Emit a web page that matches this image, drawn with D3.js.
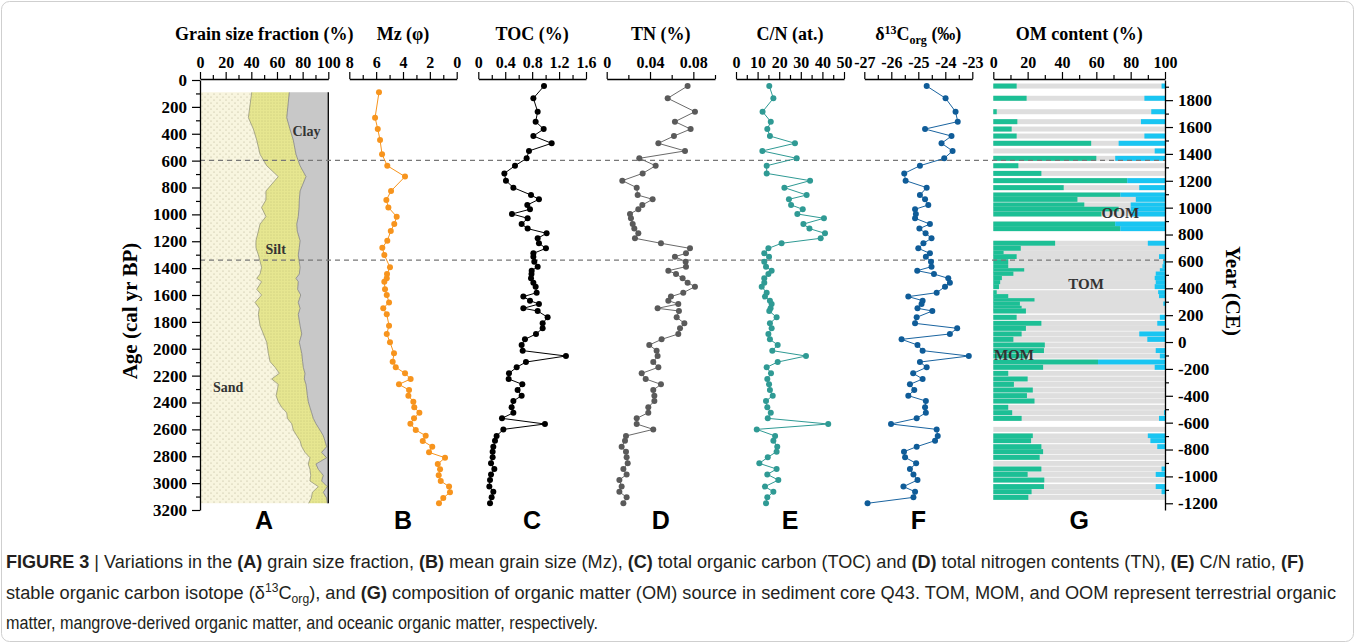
<!DOCTYPE html>
<html><head><meta charset="utf-8">
<script src="https://cdn.jsdelivr.net/npm/d3@7"></script>
<style>body{margin:0;background:#fff}svg{display:block}</style>
</head><body>
<svg id="c" width="1355" height="643"></svg>
<script>
// ---------------- DATA ----------------
// Panel A/B samples (grain size), age in cal yr BP
const grainAge = [92,280,365,447,553,638,719,826,893,948,1017,1072,1124,1196,1248,1302,1394,1444,1476,1501,1558,1600,1655,1699,1744,1828,1890,1952,2034,2096,2138,2183,2225,2265,2307,2349,2394,2436,2476,2518,2558,2605,2647,2686,2729,2771,2811,2858,2897,2942,2984,3026,3068,3111,3150];
const sand = [40.3,37.7,41.6,44.2,46.8,52,61,51.4,51.4,48,51.4,46.8,45.5,43.6,43.6,45.5,48,46.8,44.2,48,44.2,48,42.9,46.2,45.5,46.8,49.4,52,53.3,54.6,58.5,61.8,55.9,61,60.3,59.3,61,63.7,67.6,68.1,71.5,72.7,75.4,78,79.3,81.8,85.7,84.4,85.7,86.3,85.7,92.2,87.6,86.8,84.7];
const silt = [29.3,29.9,28.5,28.5,28,26,21.6,26.6,26,29.2,25.2,28.6,30.3,34.4,33.8,31.1,30,30.6,30.6,28.6,31.9,30.5,33.7,31.8,31.1,31.2,29.9,25.4,26,25.4,22,20,25.4,21.6,22.9,24.4,23.4,22,19.4,20.2,18.9,20.8,20.7,19.4,19.4,13,13,6,6.5,9.8,9.1,7,8.5,11.9,14.5];
const clay = [30.4,32.4,29.9,27.3,25.2,22,17.4,22,22.6,22.8,23.4,24.6,24.2,22,22.6,23.4,22,22.6,25.2,23.4,23.9,21.5,23.4,22,23.4,22,20.7,22.6,20.7,20,19.5,18.2,18.7,17.4,16.8,16.3,15.6,14.3,13,11.7,9.6,6.5,3.9,2.6,1.3,5.2,1.3,9.6,7.8,3.9,5.2,0.8,3.9,1.3,0.8];
const mz = [5.79,6.08,5.88,5.71,5.56,5.17,3.85,4.89,5.24,5.09,4.47,4.65,4.91,5.17,5.54,5.39,4.97,5.19,5.21,5.39,5.34,5.21,5.04,5.47,5.21,5.04,5.21,4.97,4.67,4.77,4.54,3.85,3.43,4.30,3.55,3.60,3.23,3.16,2.78,3.18,3.45,3.05,2.31,2.53,1.82,2.06,0.87,1.41,1.24,1.34,1.19,0.57,0.50,1.00,1.32];

// Panels C-G samples, age in cal yr BP
const sampleAge = [45,136,236,310,365,417,471,528,583,638,695,749,801,856,888,930,962,997,1029,1072,1106,1141,1178,1215,1253,1290,1315,1352,1389,1419,1444,1476,1508,1538,1583,1612,1642,1667,1699,1719,1766,1811,1848,1890,1930,1972,2014,2054,2099,2138,2183,2225,2265,2307,2349,2389,2436,2476,2518,2560,2600,2649,2684,2729,2766,2808,2853,2895,2935,2977,3026,3064,3106,3150];
const toc = [0.976,0.818,0.882,0.852,0.971,0.818,1.09,0.753,0.718,0.545,0.387,0.411,0.521,0.783,0.901,0.728,0.768,0.500,0.733,0.644,0.733,1.015,0.882,0.901,1.005,0.818,0.818,0.832,0.882,0.793,0.79,0.783,0.818,0.852,0.867,0.669,0.768,0.901,0.669,0.882,1.030,0.956,0.956,0.857,0.693,0.644,0.659,1.302,0.708,0.570,0.456,0.451,0.654,0.584,0.644,0.521,0.495,0.521,0.352,0.990,0.372,0.272,0.248,0.223,0.213,0.213,0.189,0.238,0.189,0.174,0.164,0.223,0.198,0.174];
const tn = [0.0747,0.0563,0.0815,0.0630,0.0775,0.0621,0.0477,0.0723,0.0301,0.0452,0.0332,0.0144,0.0277,0.0286,0.0424,0.0329,0.0292,0.0215,0.0224,0.0240,0.0255,0.0292,0.0261,0.0501,0.0769,0.0732,0.0630,0.0729,0.0732,0.0569,0.0640,0.0701,0.0747,0.0815,0.0707,0.0593,0.0569,0.0661,0.0470,0.0667,0.0646,0.0717,0.0677,0.0661,0.0507,0.0393,0.0461,0.0470,0.0430,0.0477,0.0323,0.0360,0.0501,0.0430,0.0440,0.0440,0.0384,0.0384,0.0277,0.0277,0.0430,0.0178,0.0169,0.0138,0.0178,0.0184,0.0194,0.0154,0.0184,0.0117,0.0138,0.0117,0.0184,0.0154];
const cn = [15.4,17.3,12.3,16.1,14.5,15.7,27.3,12.2,28.1,14.2,14.2,34.3,22.4,32.7,24.5,25.5,30.9,28.4,40.7,31.2,34.0,41.2,39.2,21.1,15.0,13.1,15.3,13.1,13.9,16.5,15.0,13.1,13.1,11.9,14.2,13.4,15.7,16.5,16.0,15.4,18.8,15.7,16.5,15.0,15.7,19.3,16.8,32.4,19.3,14.2,16.2,14.5,15.3,15.7,17.0,13.9,14.5,16.1,14.7,42.7,9.6,18.1,17.3,19.1,18.8,14.7,10.8,18.8,14.5,19.6,13.4,17.3,14.5,13.9];
const d13c = [-24.69,-23.99,-23.62,-23.54,-24.75,-23.77,-24.14,-23.73,-24.04,-24.94,-25.52,-25.47,-24.69,-24.94,-24.75,-24.63,-25.12,-25.09,-25.12,-24.57,-24.96,-24.73,-24.51,-24.81,-25.00,-24.57,-24.72,-24.53,-24.51,-25.04,-24.42,-23.89,-23.83,-24.01,-24.32,-25.37,-24.84,-24.88,-25.03,-24.48,-25.06,-25.12,-23.56,-23.83,-25.62,-25.03,-24.84,-23.13,-24.94,-24.69,-25.19,-24.84,-25.31,-25.15,-25.37,-24.72,-24.75,-24.72,-25.06,-26.01,-24.32,-24.28,-24.38,-25.06,-25.53,-25.49,-25.08,-25.31,-25.18,-25.03,-25.55,-25.12,-25.18,-26.88];
// Panel G: OM source (%), same samples; null = no estimate
const momPct = [13.6,19.4,2,14,10.7,13.6,57,0,60,14.6,28,78,41,74,49,53,73,63,null,71,74,null,null,36,16,6,13.6,8.7,8.7,18,11.7,5,4,3.3,2,8.7,24,15.5,16.5,19,13.6,28,19,16.5,11.7,30,29.5,20,61,29,8.7,20,12,23,19.6,24,8.7,11,16.5,null,0,23,22,28,29,27,0,28,20,29.7,29.5,22.3,20.4,null];
const oomPct = [2,12,8,14,0,12,27,6,29,0,0,22,15,26,17,20,20,20,null,29,26,null,null,10,0,0,3.5,1,1.5,3,5.4,6,5.4,6,4,3.5,0,1,0,0,3,4.5,0,15,10.3,0,5.4,3,39,6,0,0,0,0,0,0,0,0.6,3.5,null,0,10,8.5,4.5,0,0,0,2,5.4,0,5.4,2,0,null];

const zoneBounds = [598, 1340];
const ageTicks = d3.range(0, 3201, 200);
const ageMinor = d3.range(100, 3200, 200);
const yearTicks = d3.range(-1200, 1801, 200);
const yearMinor = d3.range(-1100, 1901, 200);

// ---------------- DRAW ----------------
const serif = '"Liberation Serif","Times New Roman",serif';
const sans = '"Liberation Sans",Arial,sans-serif';
const svg = d3.select('#c');

svg.append('rect').attr('x',1.5).attr('y',1.5).attr('width',1352).attr('height',640)
  .attr('rx',8).attr('fill','#fff').attr('stroke','#cfcfcf').attr('stroke-width',1);

const defs = svg.append('defs');
const pS = defs.append('pattern').attr('id','sandP').attr('width',6).attr('height',6).attr('patternUnits','userSpaceOnUse');
pS.append('rect').attr('width',6).attr('height',6).attr('fill','#f8f5df');
pS.append('circle').attr('cx',1).attr('cy',1).attr('r',0.5).attr('fill','#a8a282');
pS.append('circle').attr('cx',4).attr('cy',4).attr('r',0.5).attr('fill','#a8a282');
const pT = defs.append('pattern').attr('id','siltP').attr('width',3).attr('height',3).attr('patternUnits','userSpaceOnUse');
pT.append('rect').attr('width',3).attr('height',3).attr('fill','#e6e690');
pT.append('circle').attr('cx',1).attr('cy',1).attr('r',0.45).attr('fill','#a8a860');

const y = d3.scaleLinear().domain([0, 3200]).range([80, 510]);
const yr = d3.scaleLinear().domain([1950, -1250]).range([80, 510]);
const axisY = 79;

const xA = d3.scaleLinear().domain([0,100]).range([200,328.3]);
const xB = d3.scaleLinear().domain([8,0]).range([349.3,456.7]);
const xC = d3.scaleLinear().domain([0,1.6]).range([478.3,586]);
const xD = d3.scaleLinear().domain([0,0.1]).range([606.7,715]);
const xE = d3.scaleLinear().domain([0,50]).range([736,844]);
const xF = d3.scaleLinear().domain([-27,-23]).range([864.3,972.3]);
const xG = d3.scaleLinear().domain([0,100]).range([993.3,1165]);

const panels = [
  {x:xA, title:'Grain size fraction (%)', major:d3.range(0,101,20), minor:d3.range(10,100,20), fmt:d=>String(d), letter:'A'},
  {x:xB, title:'Mz (φ)', major:[8,6,4,2,0], minor:[7,5,3,1], fmt:d=>String(d), letter:'B'},
  {x:xC, title:'TOC (%)', major:[0,0.4,0.8,1.2,1.6], minor:[0.2,0.6,1.0,1.4], fmt:d=>d===0?'0':d.toFixed(1), letter:'C'},
  {x:xD, title:'TN (%)', major:[0,0.04,0.08], minor:[0.02,0.06,0.1], fmt:d=>d===0?'0':d.toFixed(2), letter:'D'},
  {x:xE, title:'C/N (at.)', major:d3.range(0,51,10), minor:d3.range(5,50,10), fmt:d=>String(d), letter:'E'},
  {x:xF, title:'d13C', major:[-27,-26,-25,-24,-23], minor:[-26.5,-25.5,-24.5,-23.5], fmt:d=>String(d), letter:'F'},
  {x:xG, title:'OM content (%)', major:d3.range(0,101,20), minor:d3.range(10,100,20), fmt:d=>String(d), letter:'G'}
];

// Panel A: stacked grain-size areas
const gA = svg.append('g');
const rowsA = grainAge.map((a,i)=>({a, s:sand[i], si:silt[i], c:clay[i]}));
const areaA = (lo,hi)=>d3.area().y(d=>y(d.a)).x0(d=>xA(lo(d))).x1(d=>xA(hi(d)));
gA.append('path').datum(rowsA).attr('d', areaA(d=>0, d=>d.s)).attr('fill','url(#sandP)');
gA.append('path').datum(rowsA).attr('d', areaA(d=>d.s, d=>d.s+d.si)).attr('fill','url(#siltP)');
gA.append('path').datum(rowsA).attr('d', areaA(d=>d.s+d.si, d=>d.s+d.si+d.c)).attr('fill','#c8c8c8');
const bLine = f=>d3.line().y(d=>y(d.a)).x(d=>xA(f(d)));
gA.append('path').datum(rowsA).attr('d', bLine(d=>d.s)).attr('fill','none').attr('stroke','#8a8a70').attr('stroke-width',0.7);
gA.append('path').datum(rowsA).attr('d', bLine(d=>d.s+d.si)).attr('fill','none').attr('stroke','#777').attr('stroke-width',0.7);
gA.append('line').attr('x1',xA(100)).attr('x2',xA(100)).attr('y1',y(grainAge[0])).attr('y2',y(grainAge[grainAge.length-1]))
  .attr('stroke','#000').attr('stroke-width',1.3);
[['Sand',22,2300],['Silt',59,1270],['Clay',83,390]].forEach(([t,v,a])=>{
  gA.append('text').attr('x',xA(v)).attr('y',y(a)).attr('text-anchor','middle').attr('dominant-baseline','middle')
    .attr('font-family',serif).attr('font-weight','bold').attr('font-size',14).attr('fill','#333').text(t);
});

// Panel G: stacked horizontal bars
const gG = svg.append('g');
const barH = 5;
sampleAge.forEach((a,i)=>{
  const m = momPct[i], o = oomPct[i];
  if (m === null) return;
  const yy = y(a) - barH/2;
  gG.append('rect').attr('x',xG(0)).attr('y',yy).attr('width',xG(100)-xG(0)).attr('height',barH).attr('fill','#dedede');
  if (m>0) gG.append('rect').attr('x',xG(0)).attr('y',yy).attr('width',xG(m)-xG(0)).attr('height',barH).attr('fill','#1cbf95');
  if (o>0) gG.append('rect').attr('x',xG(100-o)).attr('y',yy).attr('width',xG(100)-xG(100-o)).attr('height',barH).attr('fill','#19c5f2');
});
[['OOM',74,1000],['TOM',54,1530],['MOM',12,2060]].forEach(([t,v,a])=>{
  gG.append('text').attr('x',xG(v)).attr('y',y(a)).attr('text-anchor','middle').attr('dominant-baseline','middle')
    .attr('font-family',serif).attr('font-weight','bold').attr('font-size',15).attr('fill','#333').text(t);
});

// Dashed zone lines
zoneBounds.forEach(b=>{
  svg.append('line').attr('x1',200).attr('x2',1165).attr('y1',y(b)).attr('y2',y(b))
    .attr('stroke','#777').attr('stroke-width',1.2).attr('stroke-dasharray','5,4');
});

// Line+point series
function series(xs, vals, ages, pc, lc){
  const d = ages.map((a,i)=>({a, v:vals[i]}));
  const g = svg.append('g');
  g.append('path').datum(d).attr('d', d3.line().x(p=>xs(p.v)).y(p=>y(p.a)))
    .attr('fill','none').attr('stroke',lc).attr('stroke-width',1);
  g.selectAll('circle').data(d).join('circle').attr('cx',p=>xs(p.v)).attr('cy',p=>y(p.a)).attr('r',3).attr('fill',pc);
}
series(xB, mz, grainAge, '#f7941d', '#f7941d');
series(xC, toc, sampleAge, '#000', '#000');
series(xD, tn, sampleAge, '#5a5a5a', '#6a6a6a');
series(xE, cn, sampleAge, '#2f9a94', '#2f9a94');
series(xF, d13c, sampleAge, '#0f5c98', '#1a64a0');

// Top axes and titles
panels.forEach(p=>{
  const g = svg.append('g').attr('transform',`translate(0,${axisY})`);
  g.call(d3.axisTop(p.x).tickValues(p.major).tickFormat(p.fmt).tickSizeInner(7).tickSizeOuter(0).tickPadding(4));
  g.attr('font-family',serif).attr('font-weight','bold').attr('font-size',16);
  g.select('.domain').attr('stroke','#000').attr('stroke-width',1.3);
  g.selectAll('.tick line').attr('stroke','#000').attr('stroke-width',1.2);
  g.selectAll('.tick text').attr('fill','#000');
  const gm = svg.append('g').attr('transform',`translate(0,${axisY})`);
  gm.call(d3.axisTop(p.x).tickValues(p.minor).tickFormat('').tickSizeInner(4).tickSizeOuter(0));
  gm.select('.domain').remove();
  gm.selectAll('.tick line').attr('stroke','#000').attr('stroke-width',1.2);
  const cx = (p.x.range()[0]+p.x.range()[1])/2;
  const t = svg.append('text').attr('x',cx).attr('y',40).attr('text-anchor','middle')
    .attr('font-family',serif).attr('font-weight','bold').attr('font-size',18).attr('fill','#000');
  if (p.title==='d13C'){
    t.append('tspan').text('δ');
    t.append('tspan').attr('font-size',12).attr('dy',-6).text('13');
    t.append('tspan').attr('dy',6).text('C');
    t.append('tspan').attr('font-size',12).attr('dy',4).text('org');
    t.append('tspan').attr('dy',-4).text(' (‰)');
  } else t.text(p.title);
  svg.append('text').attr('x',cx).attr('y',529).attr('text-anchor','middle')
    .attr('font-family',sans).attr('font-weight','bold').attr('font-size',25).attr('fill','#000').text(p.letter);
});

// Left age axis
const gL = svg.append('g').attr('transform','translate(200,0)');
gL.call(d3.axisLeft(y).tickValues(ageTicks).tickFormat(d=>String(d)).tickSizeInner(8).tickSizeOuter(0).tickPadding(5));
gL.attr('font-family',serif).attr('font-weight','bold').attr('font-size',17);
gL.select('.domain').attr('stroke','#000').attr('stroke-width',1.3);
gL.selectAll('.tick line').attr('stroke','#000').attr('stroke-width',1.2);
gL.selectAll('.tick text').attr('fill','#000');
const gLm = svg.append('g').attr('transform','translate(200,0)');
gLm.call(d3.axisLeft(y).tickValues(ageMinor).tickFormat('').tickSizeInner(4).tickSizeOuter(0));
gLm.select('.domain').remove();
gLm.selectAll('.tick line').attr('stroke','#000').attr('stroke-width',1.2);
svg.append('text').attr('transform','translate(137,311) rotate(-90)').attr('text-anchor','middle')
  .attr('font-family',serif).attr('font-weight','bold').attr('font-size',21).attr('fill','#000').text('Age (cal yr BP)');

// Right year axis
const gR = svg.append('g').attr('transform','translate(1165,0)');
gR.call(d3.axisRight(yr).tickValues(yearTicks).tickFormat(d=>String(d)).tickSizeInner(8).tickSizeOuter(0).tickPadding(5));
gR.attr('font-family',serif).attr('font-weight','bold').attr('font-size',17);
gR.select('.domain').attr('stroke','#000').attr('stroke-width',1.3);
gR.selectAll('.tick line').attr('stroke','#000').attr('stroke-width',1.2);
gR.selectAll('.tick text').attr('fill','#000');
const gRm = svg.append('g').attr('transform','translate(1165,0)');
gRm.call(d3.axisRight(yr).tickValues(yearMinor).tickFormat('').tickSizeInner(4).tickSizeOuter(0));
gRm.select('.domain').remove();
gRm.selectAll('.tick line').attr('stroke','#000').attr('stroke-width',1.2);
svg.append('text').attr('transform','translate(1226,291) rotate(90)').attr('text-anchor','middle')
  .attr('font-family',serif).attr('font-weight','bold').attr('font-size',21).attr('fill','#000').text('Year (CE)');

// Caption
const cap = svg.append('g').attr('font-family',sans).attr('font-size',18).attr('fill','#231f20');
function capLine(yy, parts, len){
  const t = cap.append('text').attr('x',6).attr('y',yy);
  if (len) t.attr('textLength',len).attr('lengthAdjust','spacingAndGlyphs');
  parts.forEach(p=>{
    const s = t.append('tspan').text(p.t);
    if (p.b) s.attr('font-weight','bold');
    if (p.sup) s.attr('font-size',12).attr('dy',-7);
    if (p.sub) s.attr('font-size',12).attr('dy',p.sub);
    if (p.dy) s.attr('dy',p.dy);
  });
}
capLine(568, [{t:'FIGURE 3',b:1},{t:' | Variations in the '},{t:'(A)',b:1},{t:' grain size fraction, '},{t:'(B)',b:1},{t:' mean grain size (Mz), '},{t:'(C)',b:1},{t:' total organic carbon (TOC) and '},{t:'(D)',b:1},{t:' total nitrogen contents (TN), '},{t:'(E)',b:1},{t:' C/N ratio, '},{t:'(F)',b:1}], 1298);
capLine(599, [{t:'stable organic carbon isotope (δ'},{t:'13',sup:1},{t:'C',dy:7},{t:'org',sub:4},{t:'), and ',dy:-4},{t:'(G)',b:1},{t:' composition of organic matter (OM) source in sediment core Q43. TOM, MOM, and OOM represent terrestrial organic'}], 1330);
capLine(629, [{t:'matter, mangrove-derived organic matter, and oceanic organic matter, respectively.'}], 592);
</script>
</body></html>
